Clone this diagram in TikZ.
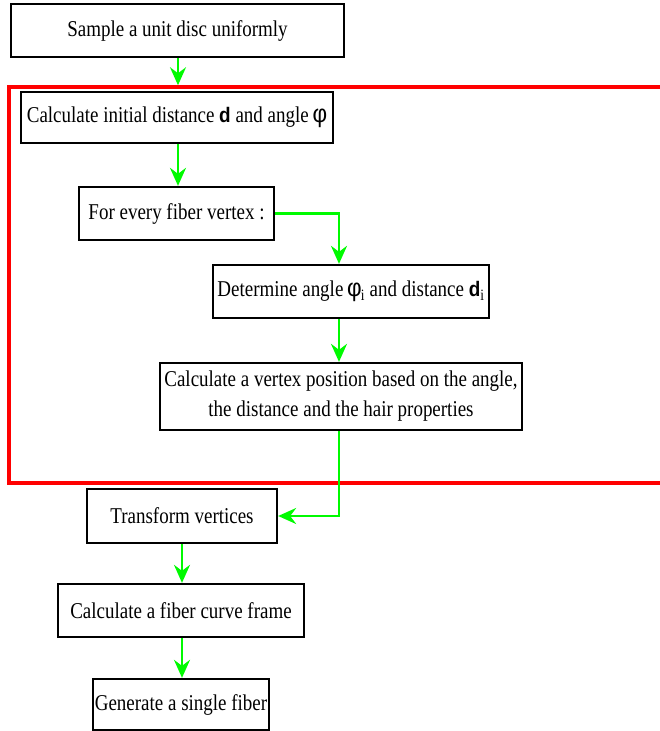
\documentclass[tikz,border=0pt]{standalone}
\usepackage{fontspec}
\setmainfont{Liberation Serif}[FakeStretch=0.84]
\newfontfamily\sansf{Liberation Sans}[FakeStretch=0.9]
\usetikzlibrary{arrows.meta}
\definecolor{arrgreen}{RGB}{0,250,0}
\definecolor{frred}{RGB}{255,0,0}
\newcommand{\phisym}{{\sansf\fontsize{25}{25}\selectfont φ}}
\newcommand{\bd}{{\sansf\bfseries\fontsize{21}{21}\selectfont d}}
\tikzset{
  box/.style={draw=black, line width=2.3pt, fill=white, inner sep=0pt, align=center,
    font=\fontsize{22.6}{30}\selectfont},
  flow/.style={draw=arrgreen, line width=2.3pt, -{Stealth[length=18pt,width=16pt,inset=6pt]}},
  frame/.style={draw=frred, line width=3.5pt, inner sep=0pt}
}
\begin{document}
\begin{tikzpicture}[x=1pt,y=-1pt]
\useasboundingbox (0,0) rectangle (659,731);
\node[frame, minimum width=660pt, minimum height=396pt] (fr) at (339,285) {};
\node[box, minimum width=333pt, minimum height=53pt] (b1) at (177.5,30.5) {Sample a unit disc uniformly};
\node[box, minimum width=312pt, minimum height=51pt] (b2) at (177,117.5) {Calculate initial distance \bd{} and angle\,\phisym};
\node[box, minimum width=195pt, minimum height=53pt] (b3) at (176.5,213.5) {For every fiber vertex :};
\node[box, minimum width=276pt, minimum height=53pt] (b4) at (351,291.5) {Determine angle\,\phisym\kern-1pt\textsubscript{i} and distance \bd\textsubscript{i}};
\node[box, minimum width=362pt, minimum height=67pt] (b5) at (341,396.5) {Calculate a vertex position based on the angle,\\the distance and the hair properties};
\node[box, minimum width=190pt, minimum height=54pt] (b6) at (182,516) {Transform vertices};
\node[box, minimum width=246pt, minimum height=53pt] (b7) at (181,610.5) {Calculate a fiber curve frame};
\node[box, minimum width=176pt, minimum height=51pt] (b8) at (181,704.5) {Generate a single fiber};
\coordinate (col) at (339,0);
\coordinate (c1) at (178,0);
\coordinate (c2) at (182,0);
\draw[flow] (c1 |- b1.south) -- (c1 |- fr.north);
\draw[flow] (c1 |- b2.south) -- (c1 |- b3.north);
\draw[flow] (b3.east) -| (col |- b4.north);
\draw[flow] (col |- b4.south) -- (col |- b5.north);
\draw[flow] (col |- b5.south) |- (b6.east);
\draw[flow] (c2 |- b6.south) -- (c2 |- b7.north);
\draw[flow] (c2 |- b7.south) -- (c2 |- b8.north);
\end{tikzpicture}
\end{document}
